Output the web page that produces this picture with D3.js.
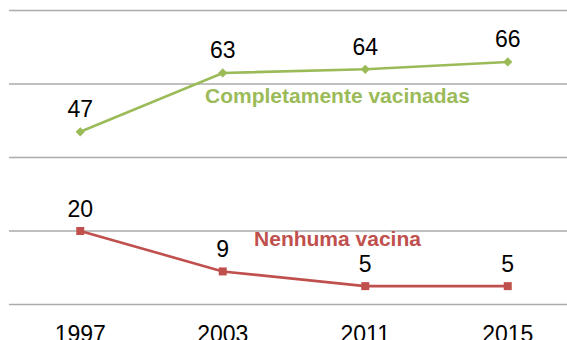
<!DOCTYPE html>
<html>
<head>
<meta charset="utf-8">
<script src="https://cdn.jsdelivr.net/npm/d3@7"></script>
<style>
  html, body { margin: 0; padding: 0; background: #fff; overflow: hidden; }
  svg { display: block; }
  text { font-family: "Liberation Sans", Arial, sans-serif; }
</style>
</head>
<body>
<svg id="chart" width="567" height="340"></svg>
<script>
// Survey years and vaccination percentages
const years = ["1997", "2003", "2011", "2015"];
const fullyVaccinated = [47, 63, 64, 66];
const noVaccine = [20, 9, 5, 5];
const yTicks = [0, 20, 40, 60, 80];

const seriesNames = ["Completamente vacinadas", "Nenhuma vacina"];
const seriesColors = ["#9bbb59", "#c0504d"];

const svg = d3.select("#chart");

const x = d3.scaleBand().domain(years).range([9, 579]);
const y = d3.scaleLinear().domain([0, 80]).range([304.5, 10.5]);
const cx = d => x(d) + x.bandwidth() / 2;

// horizontal gridlines
svg.append("g")
  .selectAll("line")
  .data(yTicks)
  .join("line")
  .attr("x1", 9)
  .attr("x2", 579)
  .attr("y1", d => y(d))
  .attr("y2", d => y(d))
  .attr("stroke", "#ababab")
  .attr("stroke-width", 1.3);

// year labels under the baseline
const xAxis = d3.axisBottom(x).tickSize(0).tickPadding(0);
const gx = svg.append("g")
  .attr("transform", `translate(0,${y(0)})`)
  .call(xAxis);
gx.select(".domain").remove();
gx.selectAll("text")
  .attr("dy", null)
  .attr("y", 37)
  .attr("font-size", 23)
  .attr("fill", "#000")
  .style("font-family", '"Liberation Sans", Arial, sans-serif');

const line = d3.line()
  .x((d, i) => cx(years[i]))
  .y(d => y(d));

const series = [fullyVaccinated, noVaccine];

series.forEach((vals, s) => {
  const g = svg.append("g");
  g.append("path")
    .datum(vals)
    .attr("d", line)
    .attr("fill", "none")
    .attr("stroke", seriesColors[s])
    .attr("stroke-width", 2.6);

  const sym = s === 0 ? d3.symbolDiamond2 : d3.symbolSquare;
  const size = s === 0 ? 55 : 64;
  g.selectAll("path.m")
    .data(vals)
    .join("path")
    .attr("class", "m")
    .attr("d", d3.symbol().type(sym).size(size))
    .attr("transform", (d, i) => `translate(${cx(years[i])},${y(d)})`)
    .attr("fill", seriesColors[s]);

  // value labels above each point
  g.selectAll("text")
    .data(vals)
    .join("text")
    .attr("x", (d, i) => cx(years[i]))
    .attr("y", d => y(d) - 14.5)
    .attr("text-anchor", "middle")
    .attr("font-size", 23)
    .attr("fill", "#000")
    .text(d => d);
});

// series names written beside the lines
const nameY = [103, 246];
svg.append("g")
  .selectAll("text")
  .data(seriesNames)
  .join("text")
  .attr("x", 337.5)
  .attr("y", (d, i) => nameY[i])
  .attr("text-anchor", "middle")
  .attr("font-size", 21)
  .attr("font-weight", "bold")
  .attr("fill", (d, i) => seriesColors[i])
  .text(d => d);
</script>
</body>
</html>
